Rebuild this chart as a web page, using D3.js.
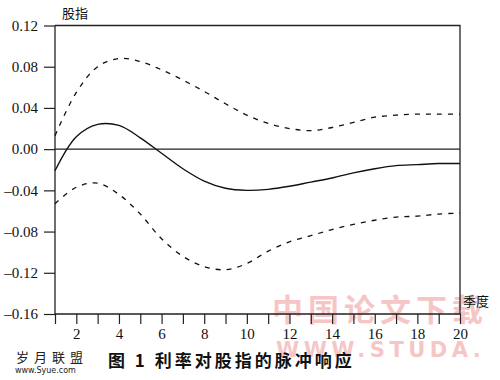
<!DOCTYPE html>
<html>
<head>
<meta charset="utf-8">
<script src="https://cdn.jsdelivr.net/npm/d3@7"></script>
<style>
  body { margin: 0; background: #fff; }
  svg { display: block; }
</style>
</head>
<body>
<div id="chart"></div>
<script>
// quarters after the shock
const quarters = d3.range(1, 21)
// impulse response of stock index to interest rate shock
const response = [-0.021, 0.012, 0.024, 0.023, 0.011, -0.004, -0.019, -0.031, -0.038, -0.040,
  -0.039, -0.036, -0.032, -0.028, -0.023, -0.019, -0.016, -0.015, -0.014, -0.014]
// confidence bands
const upper = [0.013, 0.055, 0.080, 0.088, 0.085, 0.077, 0.067, 0.056, 0.044, 0.033,
  0.025, 0.020, 0.018, 0.021, 0.026, 0.031, 0.033, 0.034, 0.034, 0.034]
const lower = [-0.053, -0.037, -0.033, -0.044, -0.063, -0.087, -0.104, -0.114, -0.117, -0.111,
  -0.099, -0.090, -0.084, -0.078, -0.073, -0.069, -0.066, -0.065, -0.063, -0.062]
const yTicks = [0.12, 0.08, 0.04, 0.00, -0.04, -0.08, -0.12, -0.16]
const xLabels = [2, 4, 6, 8, 10, 12, 14, 16, 18, 20]

const width = 500, height = 380
const plot = {left: 55, right: 460, top: 25.5, bottom: 314}

const svg = d3.select('#chart').append('svg')
  .attr('width', width)
  .attr('height', height)

const x = d3.scaleLinear().domain([1, 20]).range([plot.left, plot.right])
const y = d3.scaleLinear().domain([-0.16, 0.12]).range([plot.bottom, plot.top])

// pink watermark behind everything
const wm = svg.append('g').attr('fill', '#f6c6c6')
wm.append('text')
  .attr('x', 272).attr('y', 321)
  .style('font-family', '"Noto Sans CJK SC"')
  .style('font-weight', 'bold')
  .style('font-size', '31px')
  .style('letter-spacing', '5px')
  .text('中国论文下载')
wm.append('text')
  .attr('x', 276).attr('y', 357)
  .style('font-family', '"DejaVu Sans"')
  .style('font-weight', 'bold')
  .style('font-size', '21px')
  .style('letter-spacing', '4.5px')
  .text('WWW.STUDA.')

// y axis
const yAxis = d3.axisLeft(y)
  .tickValues(yTicks)
  .tickSize(11)
  .tickPadding(6)
  .tickFormat(d => d3.format('.2f')(d).replace('-', '–').replace('−', '–'))
const gy = svg.append('g')
  .attr('transform', `translate(${plot.left},0)`)
  .call(yAxis)
gy.select('.domain').remove()
gy.selectAll('line').attr('stroke', '#222').attr('stroke-width', 1.2)
gy.selectAll('text')
  .attr('fill', '#111')
  .style('font-family', '"Liberation Serif", serif')
  .style('font-size', '15px')

// x axis
const xAxis = d3.axisBottom(x)
  .tickValues(quarters)
  .tickSize(10)
  .tickPadding(4)
  .tickFormat(d => xLabels.includes(d) ? d : '')
const gx = svg.append('g')
  .attr('transform', `translate(0,${plot.bottom})`)
  .call(xAxis)
gx.select('.domain').remove()
gx.selectAll('line').attr('stroke', '#222').attr('stroke-width', 1.2)
gx.selectAll('text')
  .attr('fill', '#111')
  .style('font-family', '"Liberation Serif", serif')
  .style('font-size', '15px')

// frame
const frame = svg.append('g').attr('stroke', '#222').attr('stroke-width', 1.3).attr('fill', 'none')
frame.append('path')
  .attr('d', `M${plot.left},${plot.top}V${plot.bottom}H${plot.right}V${plot.top}H${plot.left}`)
frame.append('line')
  .attr('x1', plot.left).attr('x2', plot.right)
  .attr('y1', y(0)).attr('y2', y(0))

// curves
const line = d3.line()
  .x((d, i) => x(quarters[i]))
  .y(d => y(d))
  .curve(d3.curveCatmullRom.alpha(0.5))

svg.append('path')
  .datum(response)
  .attr('d', line)
  .attr('fill', 'none')
  .attr('stroke', '#111')
  .attr('stroke-width', 1.4)

svg.selectAll('.band')
  .data([upper, lower])
  .enter().append('path')
  .attr('class', 'band')
  .attr('d', line)
  .attr('fill', 'none')
  .attr('stroke', '#111')
  .attr('stroke-width', 1.3)
  .attr('stroke-dasharray', '5,6')

// axis titles
svg.append('text')
  .attr('x', 62).attr('y', 18)
  .attr('fill', '#111')
  .style('font-family', '"Noto Sans CJK SC"')
  .style('font-size', '13px')
  .text('股指')
svg.append('text')
  .attr('x', 463).attr('y', 306)
  .attr('fill', '#111')
  .style('font-family', '"Noto Sans CJK SC"')
  .style('font-size', '13px')
  .text('季度')

// caption
svg.append('text')
  .attr('x', 108).attr('y', 367)
  .attr('fill', '#111')
  .style('font-family', '"Noto Sans CJK SC"')
  .style('font-weight', 'bold')
  .style('font-size', '17px')
  .style('letter-spacing', '3px')
  .text('图 1  利率对股指的脉冲响应')

// site mark bottom left
svg.append('text')
  .attr('x', 16).attr('y', 362)
  .attr('fill', '#222')
  .style('font-family', '"Noto Sans CJK SC"')
  .style('font-size', '13px')
  .style('letter-spacing', '5px')
  .text('岁月联盟')
svg.append('text')
  .attr('x', 15).attr('y', 373)
  .attr('fill', '#222')
  .style('font-family', '"DejaVu Sans"')
  .style('font-size', '8px')
  .text('www.Syue.com')
</script>
</body>
</html>
